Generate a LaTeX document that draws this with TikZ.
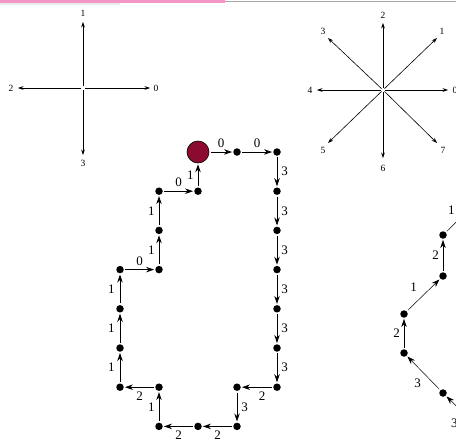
\documentclass[tikz,border=0pt]{standalone}
\usepackage{fontspec}
\setmainfont{Liberation Serif}
\usetikzlibrary{arrows.meta}
\definecolor{barpink}{RGB}{245,150,200}
\definecolor{startred}{RGB}{140,10,45}
\begin{document}
\begin{tikzpicture}[x=1pt,y=-1pt,
  dot/.style={circle,fill=black,inner sep=0pt,minimum size=7.5pt},
  bigdot/.style={circle,fill=startred,draw=black,line width=0.6pt,inner sep=0pt,minimum size=22pt},
  ar/.style={-{Stealth[length=8pt,width=5.5pt]},line width=0.8pt,shorten <=1.5pt,shorten >=1pt},
  thinar/.style={-{Stealth[length=8pt,width=5.5pt]},line width=0.5pt,shorten <=1.5pt,shorten >=1pt},
  lab/.style={font=\fontsize{13}{13}\selectfont,inner sep=1pt},
  slab/.style={font=\fontsize{9.5}{9.5}\selectfont,inner sep=0pt},
  dirar/.style={-{Stealth[length=5.5pt,width=3.8pt]},line width=0.6pt,shorten <=2pt}]
\useasboundingbox (0,0) rectangle (456,442);
\clip (0,0) rectangle (456,442);
% top bars
\fill[black!8] (0,2.5) rectangle (120,5);
\fill[barpink] (0,0) rectangle (225,2.6);
\draw[black!35,line width=1pt] (225,1.3) -- (456,1.3);

% 4-direction cross
\coordinate (c4) at (83,88);
\coordinate (c4a0) at (150,88);
\coordinate (c4a1) at (83,22);
\coordinate (c4a2) at (18,88);
\coordinate (c4a3) at (83,155);
\node[slab] (c4l0) at (156,88) {0};
\node[slab] (c4l1) at (83,13) {1};
\node[slab] (c4l2) at (11,88) {2};
\node[slab] (c4l3) at (83,163) {3};
\draw[dirar] (c4) -- (c4a0);
\draw[dirar] (c4) -- (c4a1);
\draw[dirar] (c4) -- (c4a2);
\draw[dirar] (c4) -- (c4a3);

% 8-direction star
\coordinate (c8) at (383,90);
\coordinate (c8a0) at (448,90);
\coordinate (c8a1) at (437,38);
\coordinate (c8a2) at (383,23);
\coordinate (c8a3) at (328,38);
\coordinate (c8a4) at (317,90);
\coordinate (c8a5) at (328,143);
\coordinate (c8a6) at (383,158);
\coordinate (c8a7) at (437,143);
\node[slab] (c8l0) at (455,90) {0};
\node[slab] (c8l1) at (442,31) {1};
\node[slab] (c8l2) at (383,15) {2};
\node[slab] (c8l3) at (323,31) {3};
\node[slab] (c8l4) at (310,90) {4};
\node[slab] (c8l5) at (323,150) {5};
\node[slab] (c8l6) at (383,168) {6};
\node[slab] (c8l7) at (443,150) {7};
\foreach \i in {0,...,7} {\draw[dirar] (c8) -- (c8a\i);}

% main chain
\node[bigdot] (s) at (198,152) {};
\node[dot] (n1) at (237,152) {};
\node[dot] (n2) at (277,152) {};
\node[dot] (n3) at (277,191.2) {};
\node[dot] (n4) at (277,230.4) {};
\node[dot] (n5) at (277,269.6) {};
\node[dot] (n6) at (277,308.8) {};
\node[dot] (n7) at (277,348) {};
\node[dot] (n8) at (277,387.2) {};
\node[dot] (n9) at (237,387.2) {};
\node[dot] (n10) at (237,426.4) {};
\node[dot] (n11) at (198,426.4) {};
\node[dot] (n12) at (159,426.4) {};
\node[dot] (n13) at (159,387.2) {};
\node[dot] (n14) at (120,387.2) {};
\node[dot] (n15) at (120,348) {};
\node[dot] (n16) at (120,308.8) {};
\node[dot] (n17) at (120,269.6) {};
\node[dot] (n18) at (159,269.6) {};
\node[dot] (n19) at (159,230.4) {};
\node[dot] (n20) at (159,191.2) {};
\node[dot] (n21) at (198,191.2) {};

\draw[ar] (s) -- node[lab,above=3pt] {0} (n1);
\draw[ar] (n1) -- node[lab,above=3pt] {0} (n2);
\draw[ar] (n2) -- node[lab,right=3pt] {3} (n3);
\draw[ar] (n3) -- node[lab,right=3pt] {3} (n4);
\draw[ar] (n4) -- node[lab,right=3pt] {3} (n5);
\draw[ar] (n5) -- node[lab,right=3pt] {3} (n6);
\draw[ar] (n6) -- node[lab,right=3pt] {3} (n7);
\draw[ar] (n7) -- node[lab,right=3pt] {3} (n8);
\draw[ar] (n8) -- node[lab,below=3pt,xshift=5pt] {2} (n9);
\draw[ar] (n9) -- node[lab,right=3pt] {3} (n10);
\draw[ar] (n10) -- node[lab,below=3pt] {2} (n11);
\draw[ar] (n11) -- node[lab,below=3pt] {2} (n12);
\draw[ar] (n12) -- node[lab,left=3pt] {1} (n13);
\draw[ar] (n13) -- node[lab,below=3pt] {2} (n14);
\draw[ar] (n14) -- node[lab,left=4pt] {1} (n15);
\draw[ar] (n15) -- node[lab,left=4pt] {1} (n16);
\draw[ar] (n16) -- node[lab,left=4pt] {1} (n17);
\draw[ar] (n17) -- node[lab,above=3pt] {0} (n18);
\draw[ar] (n18) -- node[lab,left=3pt] {1} (n19);
\draw[ar] (n19) -- node[lab,left=3pt] {1} (n20);
\draw[ar] (n20) -- node[lab,above=3pt] {0} (n21);
\draw[ar] (n21) -- node[lab,left=3pt] {1} (s);

% right partial chain
\coordinate (rb) at (483,432);
\node[dot] (r5) at (443,393) {};
\node[dot] (r4) at (404,353) {};
\node[dot] (r3) at (404,314) {};
\node[dot] (r2) at (443,276) {};
\node[dot] (r1) at (443,235) {};
\coordinate (rt) at (483,196);
\draw[thinar] (rb) -- node[lab,midway,xshift=-10pt,yshift=-9.5pt] {3} (r5);
\draw[thinar] (r5) -- node[lab,midway,xshift=-6pt,yshift=-10pt] {3} (r4);
\draw[thinar] (r4) -- node[lab,left=3pt] {2} (r3);
\draw[thinar] (r3) -- node[lab,midway,xshift=-10pt,yshift=8pt] {1} (r2);
\draw[thinar] (r2) -- node[lab,left=3pt] {2} (r1);
\draw[thinar] (r1) -- node[lab,midway,xshift=-13pt,yshift=3.5pt] {1} (rt);
\end{tikzpicture}
\end{document}
